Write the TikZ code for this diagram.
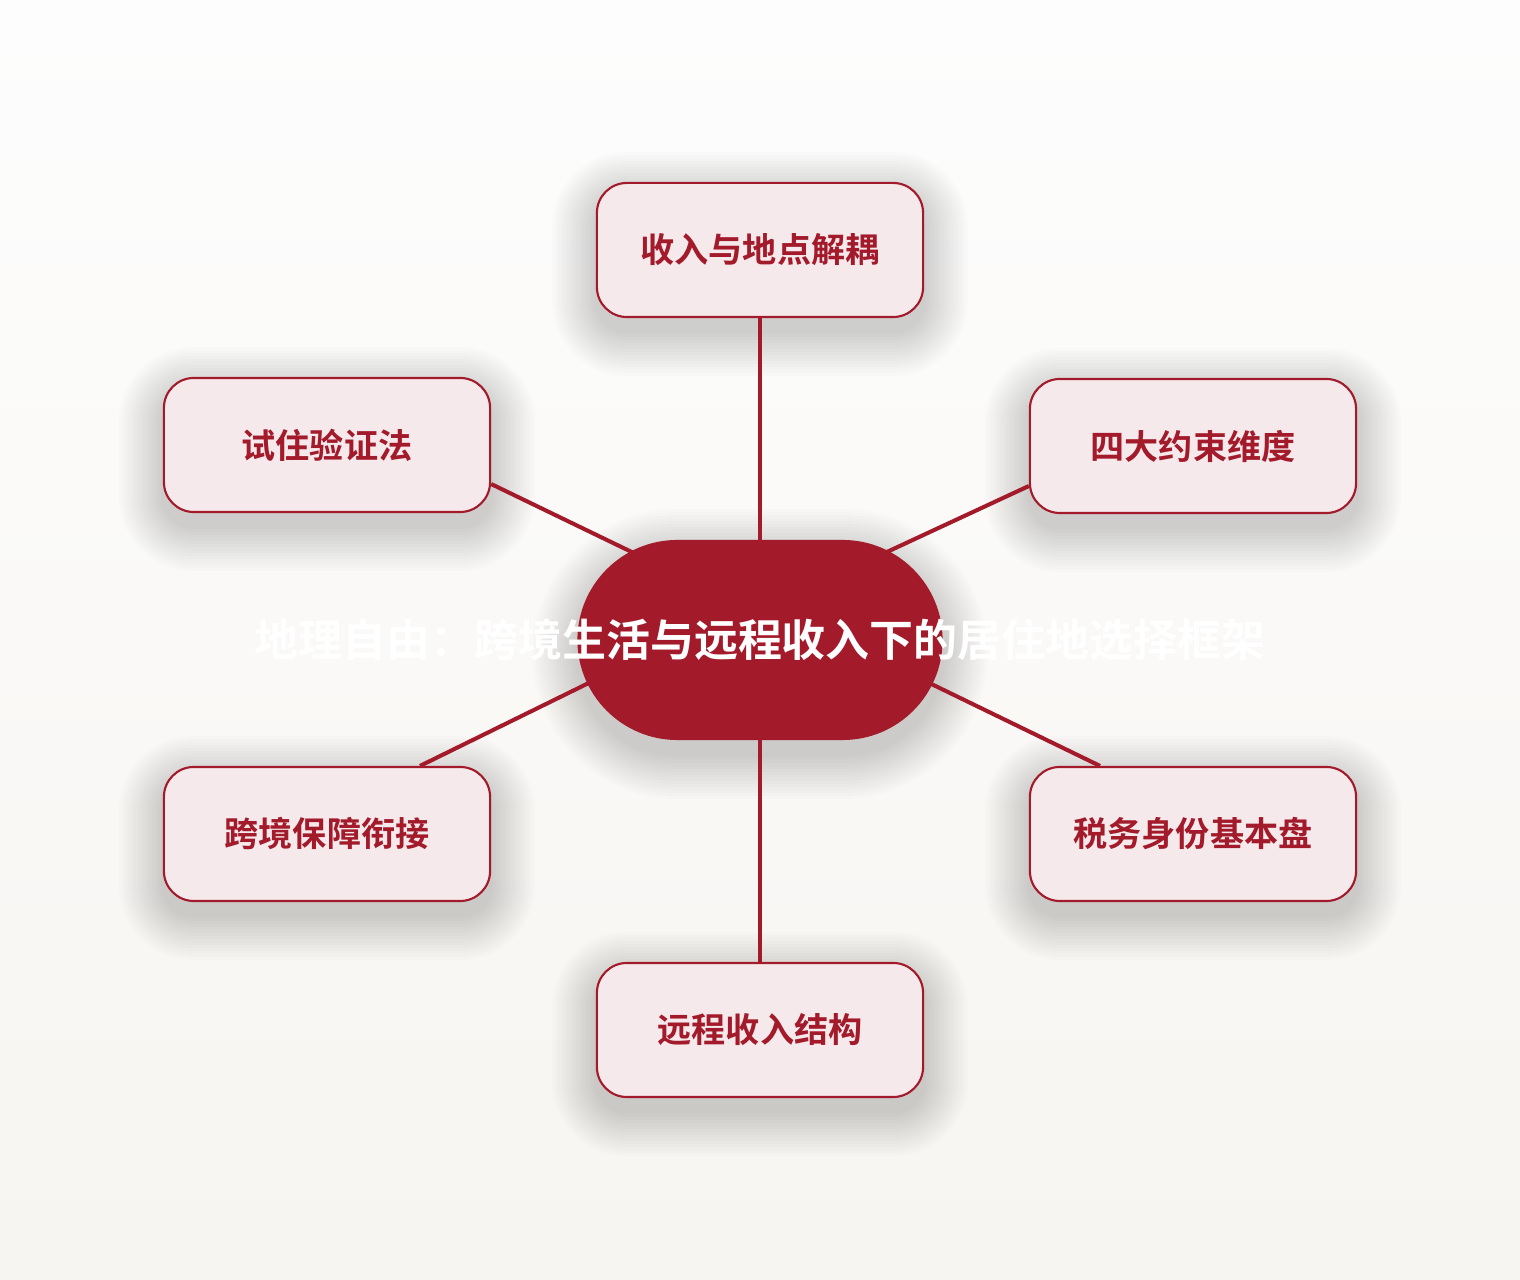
\documentclass[tikz,border=0pt]{standalone}
\usepackage{fontspec}
\newfontfamily\cjk{Noto Sans CJK SC}[BoldFont={Noto Sans CJK SC Bold}]
\definecolor{hubred}{HTML}{A31A2A}
\definecolor{leafpink}{HTML}{F5E9EC}
\definecolor{bgtop}{HTML}{FDFDFD}
\definecolor{bgbottom}{HTML}{F7F5F1}
\begin{document}
\begin{tikzpicture}[
    x=0.01cm, y=-0.01cm,
    every node/.style={align=center, font=\cjk\bfseries},
    hub/.style={fill=hubred, text=white, minimum width=3.65cm, minimum height=2cm,
        rounded corners=1cm, inner sep=0pt, font=\cjk\bfseries\fontsize{12.5pt}{14pt}\selectfont},
    leaf/.style={draw=hubred, line width=0.6pt, fill=leafpink, text=hubred,
        minimum width=3.26cm, minimum height=1.34cm, rounded corners=0.3cm,
        font=\cjk\bfseries\fontsize{9.7pt}{11pt}\selectfont},
    spoke/.style={draw=hubred, line width=1.15pt},
    haze/.style={fill=black, fill opacity=0.011, inner sep=0pt},
    ]
\shade[top color=bgtop, bottom color=bgbottom] (0,0) rectangle (1520,1280);
\useasboundingbox (0,0) rectangle (1520,1280);
% soft shadows
\foreach \px/\py in {760/250,327/445,1193/446,327/834,1193/834,760/1030}
  \foreach \i in {1,...,15}
    \node[haze, rounded corners=0.3cm+0.03cm*\i, minimum width=3.26cm+0.06cm*\i,
        minimum height=1.34cm+0.06cm*\i] (haze-\px-\py-\i) at (\px,\py+14) {};
\foreach \i in {1,...,15}
  \node[haze, rounded corners=1cm+0.03cm*\i, minimum width=3.65cm+0.06cm*\i,
      minimum height=2cm+0.06cm*\i] (haze-hub-\i) at (760,654) {};
% leaves
\node[leaf] (decouple) at (760,250) {收入与地点解耦};
\node[leaf] (trial) at (327,445) {试住验证法};
\node[leaf] (limits) at (1193,446) {四大约束维度};
\node[leaf] (welfare) at (327,834) {跨境保障衔接};
\node[leaf] (taxid) at (1193,834) {税务身份基本盘};
\node[leaf] (income) at (760,1030) {远程收入结构};
% spoke ends
\coordinate (C) at (760,640);
\coordinate (portTL) at (642,557);
\coordinate (portTR) at (874,558);
\coordinate (portBL) at (601,677);
\coordinate (portBR) at (919,678);
\draw[spoke] (C) -- (decouple);
\draw[spoke] (portTL) -- ([yshift=-0.39cm]trial.east);
\draw[spoke] (portTR) -- ([yshift=-0.40cm]limits.west);
\draw[spoke] (portBL) -- ([xshift=0.93cm]welfare.north);
\draw[spoke] (portBR) -- ([xshift=-0.93cm]taxid.north);
\draw[spoke] (C) -- (income);
\node[hub] (hub) at (C) {\makebox[0pt]{地理自由：跨境生活与远程收入下的居住地选择框架}};
\end{tikzpicture}
\end{document}
